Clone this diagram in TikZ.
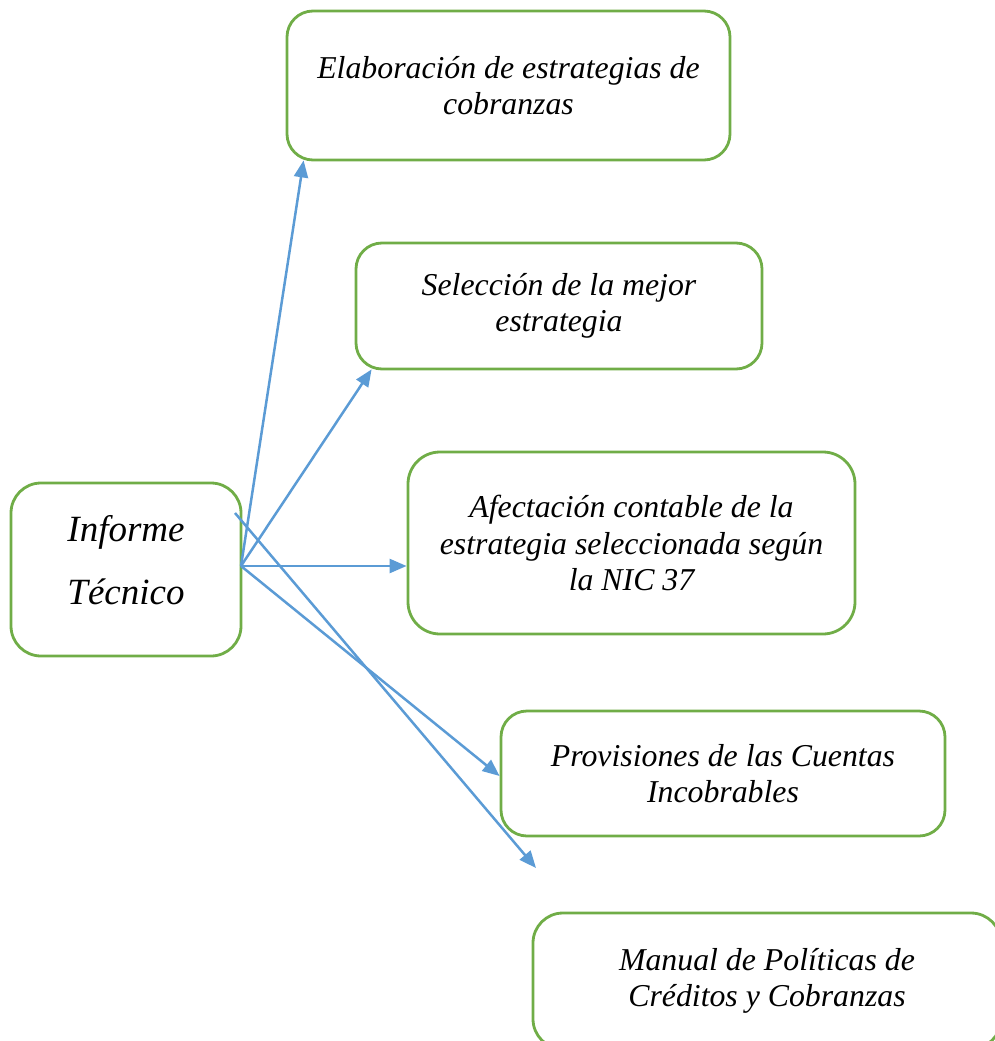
\documentclass[tikz,border=0pt]{standalone}
\usepackage{fontspec}
\setmainfont{Liberation Serif}
\usetikzlibrary{arrows.meta}
\definecolor{boxgreen}{HTML}{70AD47}
\definecolor{arrblue}{HTML}{5B9BD5}
\tikzset{
  box/.style={draw=boxgreen, line width=2.8pt, rounded corners=26pt, align=center,
    font=\fontsize{31.8}{36.5}\selectfont\itshape, inner sep=0pt},
  arr/.style={draw=arrblue, line width=2.5pt, -{Triangle[length=17pt,width=14pt]}}
}
\begin{document}
\begin{tikzpicture}[x=1pt,y=-1pt]
\useasboundingbox (0,0) rectangle (995,1041);
\begin{scope}
\clip (0,0) rectangle (995,1041);
\node[box, minimum width=230pt, minimum height=173pt, rounded corners=30pt,
  font=\fontsize{37}{63}\selectfont\itshape] (bA) at (126,569.5) {\raisebox{2.5pt}[0pt][0pt]{\begin{tabular}{@{}c@{}}Informe\\[0pt]Técnico\end{tabular}}};
\node[box, minimum width=443pt, minimum height=149pt] (b1) at (508.5,85.5) {Elaboración de estrategias de\\cobranzas};
\node[box, minimum width=406pt, minimum height=126pt] (b2) at (559,306) {Selección de la mejor\\estrategia};
\node[box, minimum width=447pt, minimum height=182pt, rounded corners=32pt] (b3) at (631.5,543) {Afectación contable de la\\estrategia seleccionada según\\la NIC 37};
\node[box, minimum width=444pt, minimum height=125pt] (b4) at (723,773.5) {Provisiones de las Cuentas\\Incobrables};
\node[box, minimum width=468pt, minimum height=136pt, rounded corners=30pt] (b5) at (767,981) {Manual de Políticas de\\Créditos y Cobranzas};
\end{scope}
\coordinate (o) at (241,566);
\coordinate (o5) at (235,513);
\coordinate (e1) at ([xshift=18pt,yshift=1pt]b1.south west);
\coordinate (e2) at ([xshift=17pt,yshift=1pt]b2.south west);
\coordinate (e4) at ([yshift=-2.5pt]b4.west);
\coordinate (e5) at (536,868);
\draw[arr] (o) -- (e1);
\draw[arr] (o) -- (e2);
\draw[arr] (o) -- (b3.west |- o);
\draw[arr] (o) -- (e4);
\draw[arr] (o5) -- (e5);
\end{tikzpicture}
\end{document}
